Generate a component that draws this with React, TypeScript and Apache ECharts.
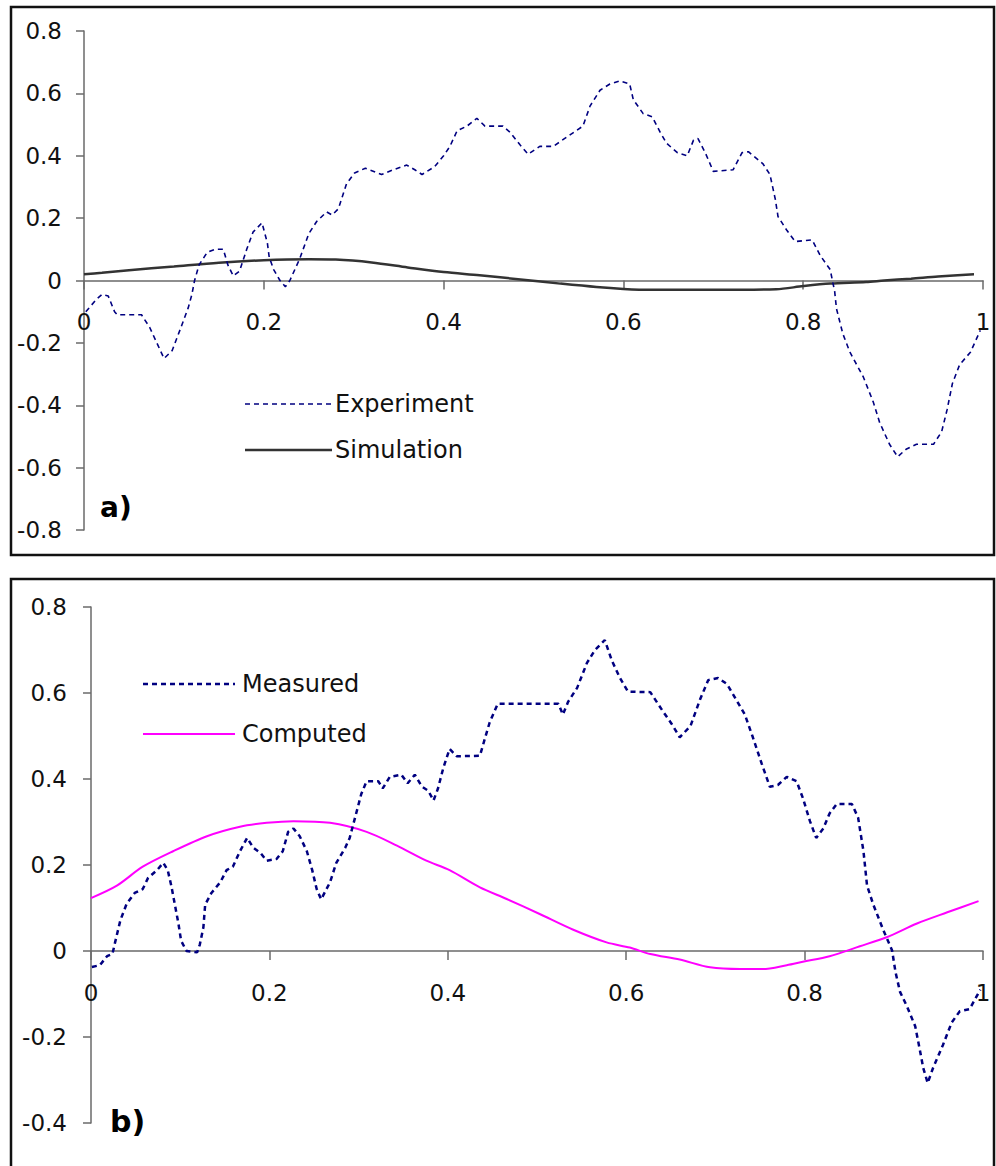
import React, { useEffect, useRef } from "react";
import * as echarts from "echarts";

// ---- Panel a) ----
const expX = [0.002, 0.014, 0.02, 0.027, 0.034, 0.037, 0.064, 0.073, 0.081, 0.089, 0.098, 0.107, 0.116, 0.12, 0.123, 0.128, 0.137, 0.146, 0.155, 0.16, 0.166, 0.173, 0.181, 0.188, 0.198, 0.204, 0.206, 0.211, 0.218, 0.224, 0.229, 0.24, 0.25, 0.259, 0.27, 0.276, 0.283, 0.292, 0.301, 0.313, 0.331, 0.344, 0.359, 0.368, 0.376, 0.39, 0.4, 0.407, 0.415, 0.426, 0.437, 0.446, 0.466, 0.474, 0.485, 0.494, 0.507, 0.522, 0.537, 0.555, 0.563, 0.574, 0.585, 0.596, 0.607, 0.611, 0.622, 0.632, 0.641, 0.648, 0.66, 0.671, 0.678, 0.683, 0.691, 0.7, 0.722, 0.732, 0.739, 0.755, 0.763, 0.769, 0.772, 0.782, 0.791, 0.81, 0.819, 0.83, 0.835, 0.837, 0.844, 0.852, 0.867, 0.878, 0.885, 0.896, 0.905, 0.915, 0.926, 0.945, 0.954, 0.96, 0.966, 0.974, 0.986, 0.997];
const expY = [-0.1, -0.06, -0.045, -0.05, -0.1, -0.11, -0.11, -0.15, -0.2, -0.25, -0.225, -0.157, -0.087, -0.045, 0.0, 0.05, 0.09, 0.1, 0.1, 0.05, 0.015, 0.03, 0.1, 0.155, 0.185, 0.12, 0.075, 0.035, 0.0, -0.02, 0.0, 0.07, 0.15, 0.19, 0.22, 0.21, 0.23, 0.31, 0.345, 0.36, 0.34, 0.355, 0.37, 0.355, 0.34, 0.365, 0.4, 0.43, 0.48, 0.495, 0.52, 0.495, 0.495, 0.475, 0.435, 0.405, 0.43, 0.43, 0.46, 0.495, 0.56, 0.61, 0.63, 0.64, 0.63, 0.58, 0.535, 0.525, 0.475, 0.44, 0.41, 0.4, 0.45, 0.455, 0.41, 0.35, 0.355, 0.41, 0.413, 0.375, 0.34, 0.26, 0.205, 0.16, 0.125, 0.13, 0.08, 0.035, -0.035, -0.09, -0.17, -0.23, -0.31, -0.39, -0.455, -0.525, -0.565, -0.54, -0.525, -0.525, -0.485, -0.415, -0.33, -0.27, -0.23, -0.16];

const simX = [0, 0.02, 0.05, 0.1, 0.15, 0.2, 0.25, 0.28, 0.32, 0.36, 0.4, 0.44, 0.48, 0.53, 0.57, 0.6, 0.63, 0.7, 0.77, 0.8, 0.83, 0.87, 0.89, 0.92, 0.95, 0.99];
const simY = [0.02, 0.025, 0.033, 0.045, 0.057, 0.065, 0.068, 0.067, 0.058, 0.042, 0.027, 0.017, 0.005, -0.01, -0.021, -0.027, -0.03, -0.03, -0.028, -0.018, -0.01, -0.005, 0.0, 0.006, 0.013, 0.02];

// ---- Panel b) ----
const measX = [0.001, 0.01, 0.018, 0.024, 0.027, 0.033, 0.04, 0.049, 0.058, 0.064, 0.074, 0.081, 0.086, 0.09, 0.094, 0.098, 0.101, 0.107, 0.119, 0.122, 0.126, 0.128, 0.135, 0.145, 0.152, 0.159, 0.167, 0.175, 0.182, 0.19, 0.197, 0.208, 0.215, 0.221, 0.227, 0.234, 0.242, 0.248, 0.253, 0.258, 0.268, 0.275, 0.285, 0.29, 0.296, 0.303, 0.309, 0.322, 0.327, 0.335, 0.348, 0.355, 0.363, 0.371, 0.378, 0.384, 0.389, 0.395, 0.402, 0.41, 0.436, 0.442, 0.447, 0.456, 0.524, 0.529, 0.535, 0.545, 0.556, 0.565, 0.576, 0.584, 0.593, 0.602, 0.627, 0.634, 0.641, 0.651, 0.66, 0.672, 0.683, 0.692, 0.703, 0.713, 0.724, 0.733, 0.742, 0.752, 0.761, 0.77, 0.78, 0.791, 0.798, 0.806, 0.813, 0.821, 0.828, 0.836, 0.853, 0.86, 0.866, 0.87, 0.877, 0.888, 0.898, 0.902, 0.907, 0.915, 0.924, 0.929, 0.933, 0.938, 0.944, 0.955, 0.965, 0.974, 0.985, 0.993, 0.997];
const measY = [-0.037, -0.033, -0.012, -0.007, 0.02, 0.072, 0.11, 0.135, 0.144, 0.17, 0.188, 0.205, 0.188, 0.152, 0.108, 0.064, 0.024, 0.0, -0.003, 0.015, 0.055, 0.108, 0.135, 0.16, 0.188, 0.196, 0.232, 0.263, 0.24, 0.228, 0.21, 0.214, 0.232, 0.277, 0.285, 0.267, 0.232, 0.188, 0.144, 0.12, 0.16, 0.205, 0.24, 0.263, 0.31, 0.365, 0.395, 0.395, 0.378, 0.405, 0.41, 0.39, 0.41, 0.382, 0.373, 0.35, 0.378, 0.426, 0.47, 0.453, 0.454, 0.497, 0.532, 0.575, 0.575, 0.55, 0.58, 0.612, 0.67, 0.7, 0.723, 0.675, 0.635, 0.603, 0.602, 0.58, 0.558, 0.528, 0.497, 0.523, 0.586, 0.63, 0.635, 0.621, 0.582, 0.55, 0.497, 0.435, 0.382, 0.386, 0.405, 0.395, 0.356, 0.302, 0.263, 0.285, 0.32, 0.342, 0.342, 0.31, 0.232, 0.152, 0.108, 0.05, 0.002, -0.05, -0.095, -0.13, -0.175, -0.228, -0.272, -0.307, -0.272, -0.219, -0.166, -0.14, -0.135, -0.105, -0.09];

const compX = [0, 0.029, 0.058, 0.092, 0.13, 0.167, 0.197, 0.227, 0.268, 0.309, 0.343, 0.376, 0.402, 0.436, 0.466, 0.503, 0.54, 0.578, 0.604, 0.627, 0.66, 0.694, 0.728, 0.753, 0.78, 0.798, 0.828, 0.862, 0.892, 0.926, 0.96, 0.995];
const compY = [0.123, 0.152, 0.196, 0.232, 0.267, 0.289, 0.298, 0.302, 0.298, 0.277, 0.245, 0.21, 0.188, 0.148, 0.121, 0.086, 0.05, 0.02, 0.008, -0.007, -0.02, -0.038, -0.042, -0.042, -0.033, -0.025, -0.012, 0.011, 0.032, 0.064, 0.09, 0.116];

const xTicks = { min: 0, max: 1, interval: 0.2 };
const yTicksA = { min: -0.8, max: 0.8, interval: 0.2 };
const yTicksB = { min: -0.4, max: 0.8, interval: 0.2 };

const FONT = "DejaVu Sans";
const AXIS_COLOR = "#6a6a6a";

const GRID_A = { left: 84, top: 31, width: 899, height: 499 };
const GRID_B = { left: 91, top: 607, width: 892, height: 516 };

function pairs(xs: number[], ys: number[]) {
  return xs.map((x, i) => [x, ys[i]]);
}

function fmt(v: number) {
  const r = Math.round(v * 10) / 10;
  return String(r);
}

// offset the x axis from the grid bottom up to the y = 0 line
function zeroOffset(g: { height: number }, t: { min: number; max: number }) {
  return -g.height * (0 - t.min) / (t.max - t.min);
}

function xAxisCfg(gridIndex: number, offset: number) {
  return {
    type: "value",
    gridIndex,
    position: "bottom",
    offset,
    min: xTicks.min,
    max: xTicks.max,
    interval: xTicks.interval,
    axisLine: { show: true, onZero: false, lineStyle: { color: AXIS_COLOR, width: 1.5 } },
    axisTick: { show: true, inside: false, length: 9, lineStyle: { color: AXIS_COLOR, width: 1.5 } },
    axisLabel: { margin: 30, fontSize: 23, fontFamily: FONT, color: "#111", formatter: fmt },
    splitLine: { show: false },
  };
}

function yAxisCfg(gridIndex: number, t: { min: number; max: number; interval: number }, margin: number) {
  return {
    type: "value",
    gridIndex,
    min: t.min,
    max: t.max,
    interval: t.interval,
    axisLine: { show: true, onZero: false, lineStyle: { color: AXIS_COLOR, width: 1.5 } },
    axisTick: { show: true, inside: false, length: 8, lineStyle: { color: AXIS_COLOR, width: 1.5 } },
    axisLabel: { margin, fontSize: 23, fontFamily: FONT, color: "#111", formatter: fmt },
    splitLine: { show: false },
  };
}

export default function App() {
  const ref = useRef<HTMLDivElement>(null);
  useEffect(() => {
    if (!ref.current) return;
    const chart = echarts.init(ref.current, undefined, { renderer: "svg" });
    const legendFont = { fontSize: 24, fontFamily: FONT, fill: "#111", verticalAlign: "middle", align: "left" };
    chart.setOption({
      animation: false,
      backgroundColor: "#ffffff",
      grid: [GRID_A, GRID_B],
      xAxis: [xAxisCfg(0, zeroOffset(GRID_A, yTicksA)), xAxisCfg(1, zeroOffset(GRID_B, yTicksB))],
      yAxis: [yAxisCfg(0, yTicksA, 22), yAxisCfg(1, yTicksB, 24)],
      series: [
        {
          name: "Simulation",
          type: "line",
          xAxisIndex: 0,
          yAxisIndex: 0,
          data: pairs(simX, simY),
          showSymbol: false,
          smooth: 0.3,
          lineStyle: { color: "#333333", width: 2.5 },
          z: 2,
        },
        {
          name: "Experiment",
          type: "line",
          xAxisIndex: 0,
          yAxisIndex: 0,
          data: pairs(expX, expY),
          showSymbol: false,
          lineStyle: { color: "#000080", width: 1.6, type: [5, 4] },
          z: 3,
        },
        {
          name: "Computed",
          type: "line",
          xAxisIndex: 1,
          yAxisIndex: 1,
          data: pairs(compX, compY),
          showSymbol: false,
          smooth: 0.3,
          lineStyle: { color: "#ff00ff", width: 2 },
          z: 2,
        },
        {
          name: "Measured",
          type: "line",
          xAxisIndex: 1,
          yAxisIndex: 1,
          data: pairs(measX, measY),
          showSymbol: false,
          lineStyle: { color: "#000080", width: 2.5, type: [5, 4] },
          z: 3,
        },
      ],
      graphic: [
        { type: "rect", silent: true, shape: { x: 11, y: 7, width: 983, height: 548 }, style: { fill: "none", stroke: "#111", lineWidth: 2.5 } },
        { type: "rect", silent: true, shape: { x: 11, y: 579, width: 983, height: 640 }, style: { fill: "none", stroke: "#111", lineWidth: 2.5 } },
        { type: "line", shape: { x1: 245, y1: 404, x2: 332, y2: 404 }, style: { stroke: "#000080", lineWidth: 1.6, lineDash: [5, 4] } },
        { type: "text", x: 335, y: 404, style: { ...legendFont, text: "Experiment" } },
        { type: "line", shape: { x1: 245, y1: 450, x2: 332, y2: 450 }, style: { stroke: "#333333", lineWidth: 2.5 } },
        { type: "text", x: 335, y: 450, style: { ...legendFont, text: "Simulation" } },
        { type: "line", shape: { x1: 143, y1: 684, x2: 235, y2: 684 }, style: { stroke: "#000080", lineWidth: 2.5, lineDash: [5, 4] } },
        { type: "text", x: 242, y: 684, style: { ...legendFont, text: "Measured" } },
        { type: "line", shape: { x1: 143, y1: 734, x2: 235, y2: 734 }, style: { stroke: "#ff00ff", lineWidth: 2 } },
        { type: "text", x: 242, y: 734, style: { ...legendFont, text: "Computed" } },
        { type: "text", x: 100, y: 507, style: { text: "a)", fontSize: 28, fontWeight: "bold", fontFamily: FONT, fill: "#000", verticalAlign: "middle" } },
        { type: "text", x: 110, y: 1121, style: { text: "b)", fontSize: 30, fontWeight: "bold", fontFamily: FONT, fill: "#000", verticalAlign: "middle" } },
      ],
    });
    return () => chart.dispose();
  }, []);
  return (
    <div
      ref={ref}
      style={{ position: "fixed", left: 0, top: 0, width: 996, height: 1166, background: "#fff" }}
    />
  );
}
